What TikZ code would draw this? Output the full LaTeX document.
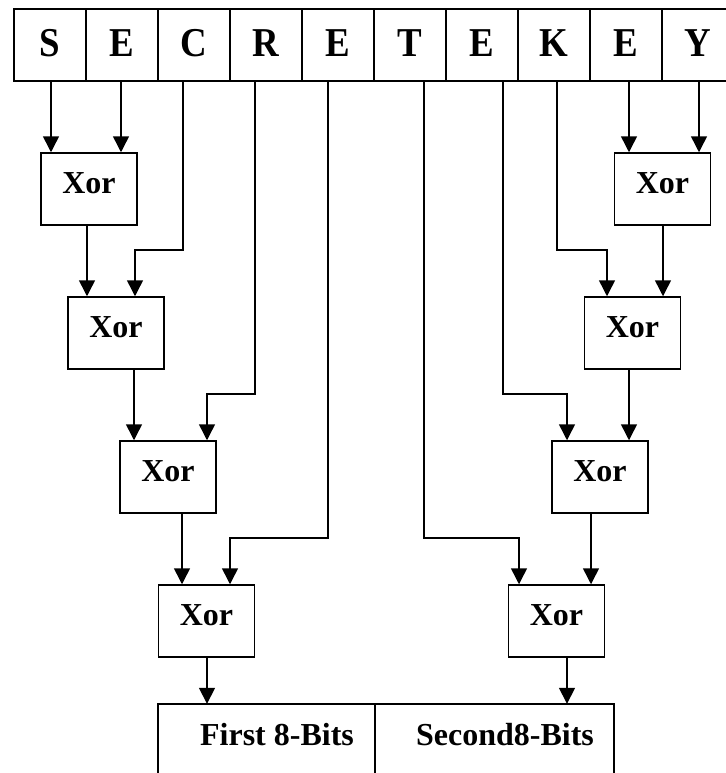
\documentclass[tikz,border=0pt]{standalone}
\usepackage{fontspec}
\setmainfont{Liberation Serif}
\usetikzlibrary{arrows.meta}

\tikzset{
  wire/.style={line width=1.5pt},
  arr/.style={wire, -{Triangle[width=16pt,length=16pt]}},
  cell/.style={draw, line width=1.5pt, minimum width=72pt, minimum height=72pt,
               inner sep=0pt, text depth=4pt, font=\fontsize{41}{41}\selectfont\bfseries},
  xorbox/.style={draw, line width=1.5pt, minimum width=96pt, minimum height=72pt,
                 inner sep=0pt, text depth=12pt, font=\fontsize{32}{32}\selectfont\bfseries},
  half/.style={minimum width=217pt, minimum height=69pt, inner sep=0pt},
  halfr/.style={minimum width=239pt, minimum height=69pt, inner sep=0pt},
  lbl/.style={inner sep=0pt, font=\fontsize{32}{32}\selectfont\bfseries}
}
% slightly condensed capitals for the key letters
\newcommand{\keyletter}[1]{\scalebox{0.9}[1]{#1}}

\begin{document}
\begin{tikzpicture}[x=1pt, y=-1pt]
\useasboundingbox (0,0) rectangle (725,773);

% key letters
\node[cell] (c1)  at (50,45)  {\keyletter{S}};
\node[cell] (c2)  at (122,45) {\keyletter{E}};
\node[cell] (c3)  at (194,45) {\keyletter{C}};
\node[cell] (c4)  at (266,45) {\keyletter{R}};
\node[cell] (c5)  at (338,45) {\keyletter{E}};
\node[cell] (c6)  at (410,45) {\keyletter{T}};
\node[cell] (c7)  at (482,45) {\keyletter{E}};
\node[cell] (c8)  at (554,45) {\keyletter{K}};
\node[cell] (c9)  at (626,45) {\keyletter{E}};
\node[cell] (c10) at (698,45) {\keyletter{Y}};

% xor gates, left chain
\node[xorbox] (L1) at (89,189)    {Xor};
\node[xorbox] (L2) at (116,333)   {Xor};
\node[xorbox] (L3) at (168,477)   {Xor};
\node[xorbox] (L4) at (206.5,621) {Xor};
% xor gates, right chain
\node[xorbox] (R1) at (662.5,189) {Xor};
\node[xorbox] (R2) at (632.5,333) {Xor};
\node[xorbox] (R3) at (600,477)   {Xor};
\node[xorbox] (R4) at (556.5,621) {Xor};

% output register (open at the bottom)
\node[half]  (first)  at (266.5,738.5) {};
\node[halfr] (second) at (494.5,738.5) {};
\draw[wire] (first.south west) -- (first.north west) -- (second.north east) -- (second.south east);
\draw[wire] (first.north east) -- (first.south east);
\node[lbl] (t1) at (277,734.5) {First 8-Bits};
\node[lbl] (t2) at (505,734.5) {Second8-Bits};

% taps under the letters
\coordinate (s1)  at ([xshift=1pt]c1.south);
\coordinate (s2)  at ([xshift=-1pt]c2.south);
\coordinate (s3)  at ([xshift=-11pt]c3.south);
\coordinate (s4)  at ([xshift=-11pt]c4.south);
\coordinate (s5)  at ([xshift=-10pt]c5.south);
\coordinate (s6)  at ([xshift=14pt]c6.south);
\coordinate (s7)  at ([xshift=21pt]c7.south);
\coordinate (s8)  at ([xshift=3pt]c8.south);
\coordinate (s9)  at ([xshift=3pt]c9.south);
\coordinate (s10) at ([xshift=1pt]c10.south);

% gate inputs fed by bent wires
\coordinate (i2)  at ([xshift=19pt]L2.north);
\coordinate (i3)  at ([xshift=39pt]L3.north);
\coordinate (i4)  at ([xshift=23.5pt]L4.north);
\coordinate (j2)  at ([xshift=-25.5pt]R2.north);
\coordinate (j3)  at ([xshift=-33pt]R3.north);
\coordinate (j4)  at ([xshift=-37.5pt]R4.north);

% gate outputs
\coordinate (o1)  at ([xshift=-2pt]L1.south);
\coordinate (o2)  at ([xshift=18pt]L2.south);
\coordinate (o3)  at ([xshift=14pt]L3.south);
\coordinate (o4)  at ([xshift=0.5pt]L4.south);
\coordinate (p1)  at ([xshift=0.5pt]R1.south);
\coordinate (p2)  at ([xshift=-3.5pt]R2.south);
\coordinate (p3)  at ([xshift=-9pt]R3.south);
\coordinate (p4)  at ([xshift=10.5pt]R4.south);

% left chain wiring
\draw[arr] (s1) -- (s1 |- L1.north);
\draw[arr] (s2) -- (s2 |- L1.north);
\draw[arr] (o1) -- (o1 |- L2.north);
\draw[arr] (s3) -- ++(0,168) -| (i2);
\draw[arr] (o2) -- (o2 |- L3.north);
\draw[arr] (s4) -- ++(0,312) -| (i3);
\draw[arr] (o3) -- (o3 |- L4.north);
\draw[arr] (s5) -- ++(0,456) -| (i4);
\draw[arr] (o4) -- (o4 |- first.north);

% right chain wiring
\draw[arr] (s10) -- (s10 |- R1.north);
\draw[arr] (s9) -- (s9 |- R1.north);
\draw[arr] (p1) -- (p1 |- R2.north);
\draw[arr] (s8) -- ++(0,168) -| (j2);
\draw[arr] (p2) -- (p2 |- R3.north);
\draw[arr] (s7) -- ++(0,312) -| (j3);
\draw[arr] (p3) -- (p3 |- R4.north);
\draw[arr] (s6) -- ++(0,456) -| (j4);
\draw[arr] (p4) -- (p4 |- second.north);
\end{tikzpicture}
\end{document}
